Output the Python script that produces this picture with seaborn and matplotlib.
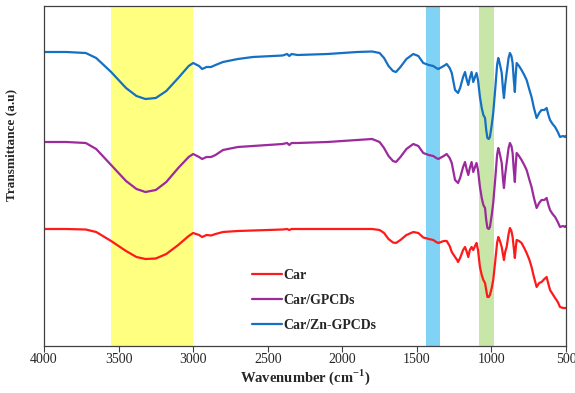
import matplotlib
matplotlib.use("Agg")
import matplotlib.pyplot as plt
import pandas as pd
import numpy as np
import seaborn as sns

# FTIR spectra (transmittance in arbitrary units, stacked)
wn_zn = [4000, 3850, 3720, 3650, 3550, 3450, 3380, 3320, 3250, 3180, 3100, 3030, 3000, 2960, 2940,
         2910, 2880, 2850, 2800, 2700, 2600, 2400, 2370, 2355, 2340, 2300, 2100, 1900, 1800, 1750,
         1720, 1690, 1660, 1640, 1610, 1570, 1524, 1490, 1457, 1420, 1390, 1370, 1356, 1320, 1300,
         1280, 1266, 1244, 1230, 1224, 1210, 1190, 1177, 1165, 1155, 1145, 1133, 1122, 1110, 1100,
         1090, 1077, 1065, 1054, 1043, 1035, 1027, 1018, 1010, 998, 988, 975, 962, 954, 945,
         931, 922, 916, 908, 898, 885, 876, 866, 858, 850, 843, 837, 831, 815, 798,
         780, 764, 745, 731, 715, 697, 680, 664, 645, 630, 618, 607, 590, 573, 555,
         540, 520, 506, 500]
t_zn = [294, 294, 293, 288, 274, 258, 250, 247, 248, 255, 268, 280, 283, 280, 277,
        279, 279, 281, 284, 287, 289, 290.5, 292, 290, 292, 291, 292, 294, 294.5, 293,
        288, 280, 275, 274, 279, 287, 292, 290, 283, 281, 280, 278, 277, 280, 282,
        278, 273, 256, 254, 253, 258, 269, 274, 266, 261, 268, 274, 264, 269, 273,
        266, 249, 238, 231, 228, 216, 208, 207, 209, 221, 233, 256, 281, 288, 283,
        273, 256, 248, 261, 273, 288, 293, 290, 283, 266, 254, 271, 283, 280, 276,
        271, 266, 256, 249, 238, 228, 233, 236, 236, 238, 231, 226, 222, 219, 214,
        209, 210, 209, 210]

wn_gp = wn_zn
t_gp = [204, 204, 203, 197, 181, 165, 157, 154, 156, 164, 178, 189, 192, 189, 187,
        189, 189, 191, 196, 199, 200, 202, 203, 201, 203, 203, 204, 206, 207, 204,
        198, 190, 185, 184, 189, 197, 202, 200, 193, 191, 190, 188, 187, 190, 192,
        188, 183, 166, 164, 163, 168, 179, 184, 176, 171, 178, 184, 174, 179, 183,
        176, 159, 148, 141, 138, 126, 118, 117, 119, 131, 143, 166, 191, 198, 193,
        183, 166, 158, 171, 183, 198, 203, 200, 193, 176, 164, 181, 193, 190, 186,
        181, 176, 166, 159, 148, 138, 143, 146, 146, 148, 141, 136, 132, 129, 124,
        119, 120, 119, 120]

wn_car = wn_zn
t_car = [117, 117, 116.5, 114, 105, 95, 89, 87, 87.5, 92, 101, 110, 113, 111, 109,
         111, 110.5, 112, 114, 115, 115.5, 116.5, 117, 116, 117, 117, 117, 117, 117, 116,
         113, 107, 103.5, 103, 106, 111, 114, 113, 108.5, 107, 106, 104, 103, 105, 105,
         100, 94, 89, 86, 84, 88, 96, 99, 94, 89, 96, 99, 96, 100, 103,
         96, 79, 71, 66, 63, 56, 49, 49, 51, 58, 66, 84, 103, 109, 106,
         99, 91, 86, 94, 99, 112, 118, 115, 109, 98, 88, 98, 106, 105, 103,
         98, 93, 86, 79, 69, 59, 63, 64, 67, 69, 62, 56, 52, 48, 44,
         39, 38, 38, 38]

samples = ["Car", "Car/GPCDs", "Car/Zn-GPCDs"]
colors = ["#ff1a1a", "#9b2a9d", "#1570c4"]

# highlighted bands (cm-1)
bands = [(3550, 3000, "#ffff80"), (1440, 1345, "#80d3f4"), (1080, 985, "#c8e6a8")]

df = pd.concat([
    pd.DataFrame({"wn": wn_car, "T": t_car, "sample": "Car"}),
    pd.DataFrame({"wn": wn_gp, "T": t_gp, "sample": "Car/GPCDs"}),
    pd.DataFrame({"wn": wn_zn, "T": t_zn, "sample": "Car/Zn-GPCDs"}),
])

sns.set_style("white")
plt.rcParams["font.family"] = ["Liberation Serif", "DejaVu Serif"]
plt.rcParams["mathtext.fontset"] = "custom"
plt.rcParams["mathtext.rm"] = "Liberation Serif"
plt.rcParams["mathtext.bf"] = "Liberation Serif:bold"

fig = plt.figure(figsize=(5.75, 3.93), dpi=100)
ax = fig.add_axes([44 / 575, 47 / 393, 522 / 575, 340 / 393])

for lo, hi, c in bands:
    ax.axvspan(lo, hi, color=c, lw=0, zorder=0)

sns.lineplot(data=df, x="wn", y="T", hue="sample", hue_order=samples,
             palette=colors, linewidth=1.6, ax=ax, zorder=2)

ax.set_xlim(4000, 500)
ax.set_ylim(0, 340)
ax.set_xticks(np.arange(4000, 499, -500))
ax.set_yticks([])
ax.tick_params(axis="x", direction="out", length=4, width=0.8, color="#404040",
               labelsize=10, pad=1, bottom=True)
for s in ax.spines.values():
    s.set_color("#404040")
    s.set_linewidth(0.9)

ax.set_xlabel(r"Wavenumber (cm$^{\mathbf{-1}}$)", fontsize=10.5, fontweight="bold", labelpad=1)
ax.set_ylabel("Transmittance (a.u)", fontsize=9.5, fontweight="bold")
ax.yaxis.set_label_coords(-0.052, 0.59)

leg = ax.legend(loc="upper left", bbox_to_anchor=(0.398, 0.226), frameon=False,
                handlelength=2.2, handletextpad=0.1, labelspacing=0.85,
                borderpad=0, borderaxespad=0, prop={"weight": "bold", "size": 10})
for h in leg.get_lines():
    h.set_linewidth(1.6)

fig.savefig("out.png", dpi=100)
